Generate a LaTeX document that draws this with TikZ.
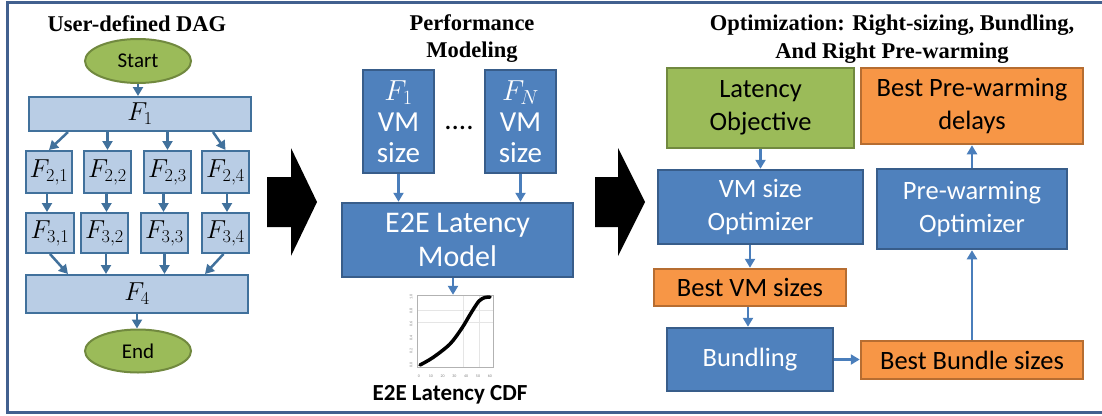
\RequirePackage{fix-cm}
\documentclass[tikz,border=0pt]{standalone}
\usepackage{fontspec}
\setmainfont{Carlito}
\newfontfamily\titlefont{Liberation Serif}
\usetikzlibrary{arrows.meta,shapes.geometric}
\definecolor{lfill}{HTML}{B9CDE5}
\definecolor{lbord}{HTML}{41719C}
\definecolor{dfill}{HTML}{4F81BD}
\definecolor{dbord}{HTML}{385D8A}
\definecolor{gfill}{HTML}{9BBB59}
\definecolor{gbord}{HTML}{71893F}
\definecolor{ofill}{HTML}{F79646}
\definecolor{obord}{HTML}{B66D31}
\definecolor{arrc}{HTML}{4A7EBB}
\definecolor{larrc}{HTML}{41719C}
\definecolor{framec}{HTML}{41608F}
\tikzset{
  lbox/.style={draw=lbord, fill=lfill, line width=2pt, inner sep=0pt, font=\fontsize{26}{28}\selectfont},
  dbox/.style={draw=dbord, fill=dfill, line width=2.5pt, text=white, align=center, inner sep=0pt, font=\fontsize{26.5}{33}\selectfont},
  gbox/.style={draw=gbord, fill=gfill, line width=2.5pt, align=center, inner sep=0pt, font=\fontsize{26.5}{33}\selectfont},
  obox/.style={draw=obord, fill=ofill, line width=2.5pt, align=center, inner sep=0pt, font=\fontsize{26.5}{33}\selectfont},
  oval/.style={ellipse, draw=gbord, fill=gfill, line width=2pt, inner sep=0pt, font=\fontsize{21}{24}\selectfont},
  arr/.style={-{Triangle[width=10pt,length=9pt]}, line width=2.5pt, draw=arrc},
  larr/.style={arr, draw=larrc},
  ttl/.style={font=\titlefont\bfseries\fontsize{22.5}{26}\selectfont, anchor=base, inner sep=0pt},
  tick/.style={font=\fontsize{4}{4}\selectfont, text=gray, inner sep=0pt},
}
\begin{document}
\begin{tikzpicture}[x=1pt,y=-1pt]
\useasboundingbox (0,0) rectangle (1102,415);
\draw[framec, line width=3pt] (7,2) rectangle (1110,412);

% ---------- left panel ----------
\node[ttl] (t1) at (137,31) {User-defined DAG};
\node[oval, minimum width=106pt, minimum height=44pt] (start) at (138,61) {Start};
\node[lbox, minimum width=222pt, minimum height=34pt] (F1) at (140,114) {$F_1$};
\node[lbox, minimum width=46pt, minimum height=42pt] (F21) at (49,172) {$F_{2,1}$};
\node[lbox, minimum width=47pt, minimum height=42pt] (F22) at (107.5,172) {$F_{2,2}$};
\node[lbox, minimum width=47pt, minimum height=42pt] (F23) at (167.5,172) {$F_{2,3}$};
\node[lbox, minimum width=47pt, minimum height=42pt] (F24) at (225.5,172) {$F_{2,4}$};
\node[lbox, minimum width=48pt, minimum height=40pt] (F31) at (50,233) {$F_{3,1}$};
\node[lbox, minimum width=47pt, minimum height=40pt] (F32) at (104.5,233) {$F_{3,2}$};
\node[lbox, minimum width=47pt, minimum height=40pt] (F33) at (164.5,233) {$F_{3,3}$};
\node[lbox, minimum width=47pt, minimum height=40pt] (F34) at (225.5,233) {$F_{3,4}$};
\node[lbox, minimum width=222pt, minimum height=38pt] (F4) at (137,294) {$F_4$};
\node[oval, minimum width=106pt, minimum height=43pt] (end) at (138,351) {End};

\draw[larr] (start.south) -- (start.south |- F1.north);
\draw[larr] ([xshift=-72pt]F1.south) -- (F21.north);
\draw[larr] (F1.south -| F22.north) -- (F22.north);
\draw[larr] (F1.south -| F23.north) -- (F23.north);
\draw[larr] ([xshift=73pt]F1.south) -- (F24.north);
\draw[larr] ([xshift=-2pt]F21.south) -- ([xshift=-2pt]F21.south |- F31.north);
\draw[larr] ([xshift=-1pt]F22.south) -- ([xshift=-1pt]F22.south |- F32.north);
\draw[larr] ([xshift=-4pt]F23.south) -- ([xshift=-4pt]F23.south |- F33.north);
\draw[larr] ([xshift=1.5pt]F24.south) -- ([xshift=1.5pt]F24.south |- F34.north);
\draw[larr] (F31.south) -- ([xshift=-69pt]F4.north);
\draw[larr] ([xshift=1.5pt]F32.south) -- ([xshift=1.5pt]F32.south |- F4.north);
\draw[larr] (F33.south) -- (F33.south |- F4.north);
\draw[larr] ([xshift=-2pt]F34.south) -- ([xshift=68pt]F4.north);
\draw[larr] (F4.south) -- (F4.south |- end.north);

% ---------- block arrows ----------
\fill[black] (267,177) -- (291,177) -- (291,148) -- (317,202) -- (291,256) -- (291,227) -- (267,227) -- cycle;
\fill[black] (595,177) -- (618,177) -- (618,148) -- (645,202) -- (618,256) -- (618,227) -- (595,227) -- cycle;

% ---------- middle panel ----------
\node[ttl] (t2a) at (472,30) {Performance};
\node[ttl] (t2b) at (472,57) {Modeling};
\node[dbox, minimum width=71pt, minimum height=103pt, font=\fontsize{29}{31}\selectfont] (f1vm) at (398.5,121.5) {$F_1$\\VM\\size};
\node[dbox, minimum width=71pt, minimum height=103pt, font=\fontsize{29}{31}\selectfont] (fnvm) at (520.5,121.5) {$F_N$\\VM\\size};
\node[anchor=base, inner sep=0pt, font=\fontsize{29}{31}\selectfont] (dots) at (459,129) {....};
\node[dbox, minimum width=231pt, minimum height=74pt, font=\fontsize{30}{34}\selectfont] (e2e) at (457.5,240) {E2E Latency\\Model};
\draw[arr] (f1vm.south) -- (f1vm.south |- e2e.north);
\draw[arr] (fnvm.south) -- (fnvm.south |- e2e.north);

\node[minimum width=76pt, minimum height=72pt, inner sep=0pt] (cdf) at (455,331) {};
\draw[gray!20, line width=0.4pt] (cdf.west |- 0,310) -- (cdf.east |- 0,310);
\draw[gray!20, line width=0.4pt] (cdf.west |- 0,322) -- (cdf.east |- 0,322);
\draw[gray!20, line width=0.4pt] (cdf.north -| 463,0) -- (cdf.south -| 463,0);
\draw[gray!20, line width=0.4pt] (cdf.north -| 479,0) -- (cdf.south -| 479,0);
\draw[gray!60, line width=0.5pt] (cdf.north west) rectangle (cdf.south east);
\draw[black, line width=3.5pt, line cap=round] plot[smooth] coordinates {(420,365) (433,357.5) (450,344) (462,328) (471,313) (479,301) (485,297.5) (490,297)};
\foreach \v [count=\i from 0] in {0,10,20,30,40,50,60} {
  \node[tick] (xt\i) at (419+11.8*\i,376) {\v};
}
\foreach \v [count=\i from 0] in {0.0,0.2,0.4,0.6,0.8,1.0} {
  \node[tick, rotate=90] (yt\i) at (411,365-13.6*\i) {\v};
}
\draw[arr] ([xshift=-4.5pt]e2e.south) -- ([xshift=-2pt]cdf.north);
\node[anchor=base, inner sep=0pt, font=\bfseries\fontsize{23}{26}\selectfont] (cdfl) at (450,400) {E2E Latency CDF};

% ---------- right panel ----------
\node[ttl] (t3a) at (892,30) {Optimization: Right-sizing, Bundling,};
\node[ttl] (t3b) at (892,58) {And Right Pre-warming};
\node[gbox, minimum width=187pt, minimum height=80pt] (latobj) at (760.5,108) {Latency\\Objective};
\node[obox, minimum width=222pt, minimum height=76pt] (bestpre) at (972,106) {Best Pre-warming\\delays};
\node[dbox, minimum width=205pt, minimum height=74pt] (vmopt) at (760.5,207) {VM size\\Optimizer};
\node[dbox, minimum width=190pt, minimum height=80pt] (preopt) at (972,209) {Pre-warming\\Optimizer};
\node[obox, minimum width=192pt, minimum height=37pt] (bestvm) at (750,287.5) {Best VM sizes};
\node[dbox, minimum width=166pt, minimum height=63pt] (bundling) at (750,359.5) {Bundling};
\node[obox, minimum width=222pt, minimum height=38pt] (bestbundle) at (972,360) {Best Bundle sizes};

\draw[arr] (latobj.south) -- (latobj.south |- vmopt.north);
\draw[arr] (vmopt.south -| bestvm.north) -- (bestvm.north);
\draw[arr] ([xshift=-2pt]bestvm.south) -- ([xshift=-2pt]bestvm.south |- bundling.north);
\draw[arr] (bundling.east) -- (bundling.east -| bestbundle.west);
\draw[arr] (bestbundle.north) -- (bestbundle.north |- preopt.south);
\draw[arr] (preopt.north) -- (preopt.north |- bestpre.south);
\end{tikzpicture}
\end{document}
